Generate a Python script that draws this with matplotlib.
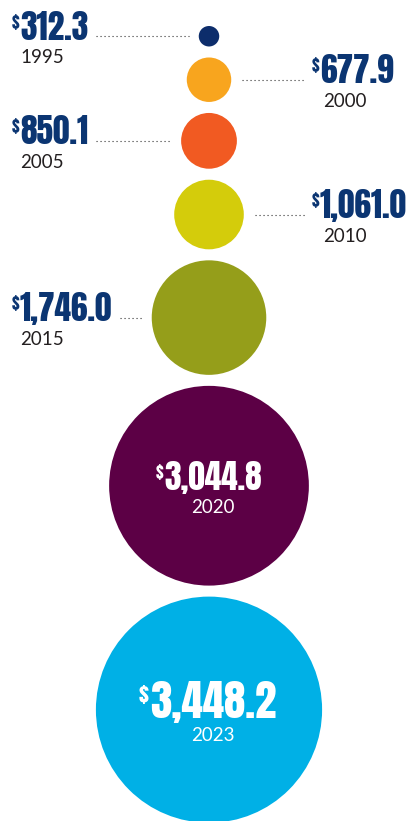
import matplotlib
matplotlib.use('Agg')
import matplotlib.pyplot as plt
from matplotlib.patches import Circle
from matplotlib import font_manager

# revenue by year, in millions
years = ['1995', '2000', '2005', '2010', '2015', '2020', '2023']
values = [312.3, 677.9, 850.1, 1061.0, 1746.0, 3044.8, 3448.2]
colors = ['#0d2d6b', '#f8a51e', '#f15a22', '#d4cc0b', '#959e1a', '#5c0045', '#00b0e6']
sides = ['left', 'right', 'left', 'right', 'left', 'inside', 'inside']

NAVY = '#0b3572'
GREY = '#231f20'


def pick_font(candidates):
    names = {f.name for f in font_manager.fontManager.ttflist}
    for c in candidates:
        if c in names:
            return c
    return 'DejaVu Sans'


NUM_FONT = pick_font(['Anton', 'Oswald', 'Bebas Neue', 'DejaVu Sans'])
YEAR_FONT = pick_font(['Lato', 'Open Sans', 'DejaVu Sans'])
PX_PER_PT = 100 / 72
YEAR_SIZE = 13.5

fig = plt.figure(figsize=(4.09, 8.21), dpi=100)
ax = fig.add_axes([0, 0, 1, 1])
ax.set_xlim(0, 409)
ax.set_ylim(821, 0)
ax.axis('off')
renderer = fig.canvas.get_renderer()
inv = ax.transData.inverted()

# circles stacked top to bottom, radius proportional to value
scale = 0.0328
gap = 11
cx = 209
radii = [v * scale for v in values]
centers = []
y = 26
for r in radii:
    centers.append(y + r)
    y += 2 * r + gap


def value_label(x, y, val, size, color, ha='left'):
    t = ax.text(x, y, f'{val:,.1f}', fontsize=size, family=NUM_FONT,
                color=color, ha=ha, va='baseline')
    bb = t.get_window_extent(renderer)
    x0 = inv.transform((bb.x0, bb.y0))[0]
    x1 = inv.transform((bb.x1, bb.y0))[0]
    cap = size * PX_PER_PT * 0.72
    ax.text(x0 - 1, y - 0.46 * cap, '$', fontsize=size * 0.5, family=NUM_FONT,
            color=color, ha='right', va='baseline')
    return x0, x1


def leader(x0, x1, y):
    ax.plot([x0, x1], [y, y], color='#333333', lw=0.8,
            linestyle=(0, (1, 2.6)), solid_capstyle='butt')


for year, val, col, side, r, cy in zip(years, values, colors, sides, radii, centers):
    ax.add_patch(Circle((cx, cy), r, color=col, lw=0))
    if side == 'left':
        _, x1 = value_label(20, cy + 3.5, val, 24, NAVY)
        ax.text(20, cy + 27, year, fontsize=YEAR_SIZE, family=YEAR_FONT, color=GREY,
                ha='left', va='baseline')
        leader(x1 + 8, cx - r - 10, cy)
    elif side == 'right':
        value_label(320, cy + 3.5, val, 24, NAVY)
        ax.text(323, cy + 27, year, fontsize=YEAR_SIZE, family=YEAR_FONT, color=GREY,
                ha='left', va='baseline')
        leader(cx + r + 11, 306, cy)
    else:
        big = year == years[-1]
        size = 31 if big else 24
        dy = 8 if big else 4
        value_label(cx + 4, cy + dy, val, size, 'white', ha='center')
        ax.text(cx + 4, cy + dy + 23.5, year, fontsize=YEAR_SIZE, family=YEAR_FONT,
                color='white', ha='center', va='baseline')

fig.savefig('out.png', dpi=100)
